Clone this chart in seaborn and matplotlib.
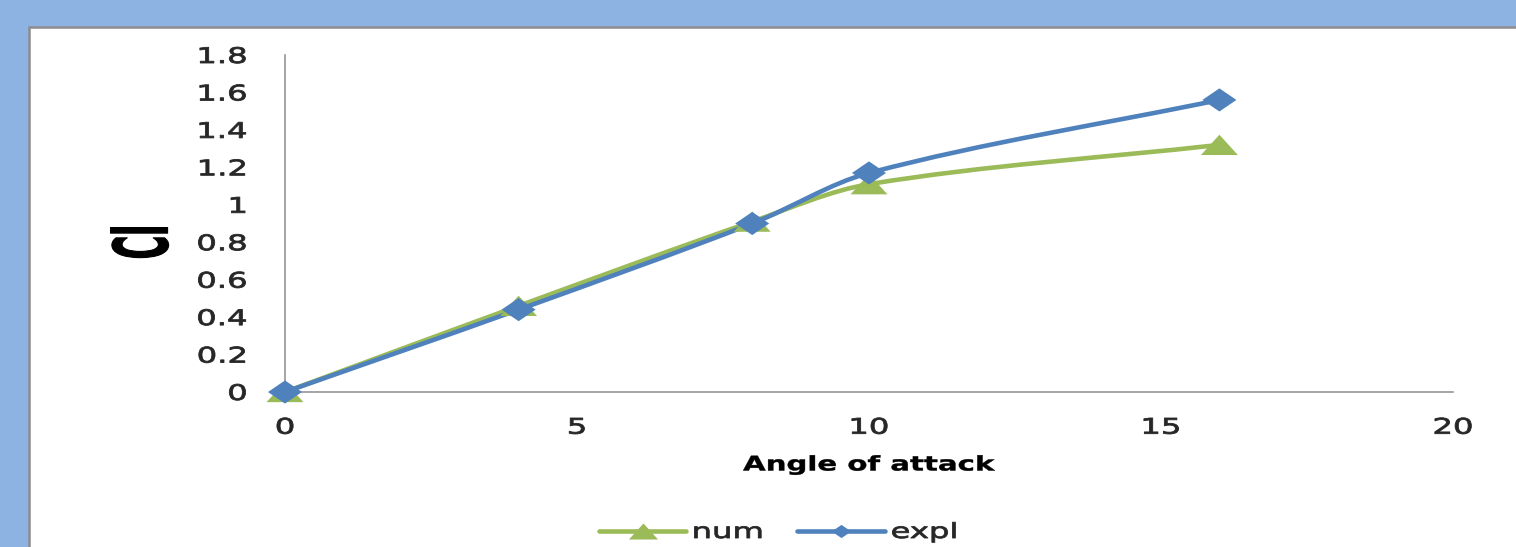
import numpy as np
import matplotlib
matplotlib.use("Agg")
import matplotlib.pyplot as plt
import seaborn as sns
from matplotlib.path import Path
from matplotlib.patches import PathPatch, Rectangle
from matplotlib.lines import Line2D
from matplotlib.markers import MarkerStyle
from matplotlib.transforms import Affine2D
from matplotlib import patheffects

# ---- data -------------------------------------------------------------
angle = [0, 4, 8, 10, 16]
cl_num = [0.0, 0.46, 0.91, 1.11, 1.32]
cl_expl = [0.0, 0.44, 0.90, 1.17, 1.56]
series_names = ["num", "expl"]
x_ticks = [0, 5, 10, 15, 20]
y_ticks = [0, 0.2, 0.4, 0.6, 0.8, 1.0, 1.2, 1.4, 1.6, 1.8]
x_label = "Angle of attack"
y_label = "Cl"

# ---- styling ----------------------------------------------------------
GREEN = "#9BBB59"
BLUE = "#4F81BD"
FRAME_BG = "#8DB3E2"
AXIS_GREY = "#8C8C8C"
TEXT = "#262626"
LINE_W = 3.3

sns.set_theme(style="white")
plt.rcParams["font.family"] = ["DejaVu Sans"]


class HStretch(patheffects.AbstractPathEffect):
    """Widen glyphs horizontally (in display space) around an anchor,
    optionally thickening the strokes a little."""

    def __init__(self, sx, anchor=0.5, stroke=0.0):
        super().__init__()
        self.sx = sx
        self.anchor = anchor
        self.stroke = stroke

    def draw_path(self, renderer, gc, tpath, affine, rgbFace=None):
        verts = tpath.vertices
        if tpath.codes is not None:
            verts = verts[tpath.codes != Path.CLOSEPOLY]
        if len(verts):
            pts = affine.transform(verts)
            x0, x1 = pts[:, 0].min(), pts[:, 0].max()
            xa = x0 + self.anchor * (x1 - x0)
            affine = affine + Affine2D().translate(-xa, 0).scale(self.sx, 1).translate(xa, 0)
        if self.stroke > 0 and rgbFace is not None:
            gc0 = renderer.new_gc()
            gc0.copy_properties(gc)
            gc0.set_linewidth(self.stroke)
            gc0.set_foreground(rgbFace)
            gc0.set_joinstyle("round")
            renderer.draw_path(gc0, tpath, affine, rgbFace)
            gc0.restore()
        else:
            renderer.draw_path(gc, tpath, affine, rgbFace)


def smooth_path(xs, ys):
    """Piecewise cubic Bezier through the points, tangents from neighbours."""
    x = np.asarray(xs, float)
    y = np.asarray(ys, float)
    n = len(x)
    m = np.empty(n)
    m[0] = (y[1] - y[0]) / (x[1] - x[0])
    m[-1] = (y[-1] - y[-2]) / (x[-1] - x[-2])
    for i in range(1, n - 1):
        m[i] = (y[i + 1] - y[i - 1]) / (x[i + 1] - x[i - 1])
    verts = [(x[0], y[0])]
    codes = [Path.MOVETO]
    for i in range(n - 1):
        h = (x[i + 1] - x[i]) / 3
        verts += [(x[i] + h, y[i] + m[i] * h),
                  (x[i + 1] - h, y[i + 1] - m[i + 1] * h),
                  (x[i + 1], y[i + 1])]
        codes += [Path.CURVE4] * 3
    return Path(verts, codes)


tri_marker = MarkerStyle(Path([(-1, -0.55), (1, -0.55), (0, 0.55), (-1, -0.55)],
                              [Path.MOVETO, Path.LINETO, Path.LINETO, Path.CLOSEPOLY]))
dia_marker = MarkerStyle(Path([(-1, 0), (0, 0.68), (1, 0), (0, -0.68), (-1, 0)],
                              [Path.MOVETO, Path.LINETO, Path.LINETO, Path.LINETO, Path.CLOSEPOLY]))

W, H = 1516, 547
fig = plt.figure(figsize=(W / 100, H / 100), dpi=100, facecolor=FRAME_BG)

# white chart panel with a grey edge on top and left
panel = Rectangle((28.5 / W, -0.1), 1.2, (H - 26.5) / H + 0.1,
                  transform=fig.transFigure, facecolor="white",
                  edgecolor=AXIS_GREY, linewidth=1.8, zorder=0)
fig.add_artist(panel)

ax = fig.add_axes([285 / W, 1 - 392 / H, (1453 - 285) / W, (392 - 55) / H])
ax.set_facecolor("none")

series = [
    (cl_num, GREEN, tri_marker, 26.6),
    (cl_expl, BLUE, dia_marker, 24.5),
]
for vals, color, mk, ms in series:
    ax.add_patch(PathPatch(smooth_path(angle, vals), transform=ax.transData,
                           facecolor="none", edgecolor=color, linewidth=LINE_W,
                           capstyle="round", joinstyle="round", clip_on=False, zorder=2))
    sns.scatterplot(x=angle, y=vals, ax=ax, marker=mk, s=ms ** 2, color=color,
                    edgecolor="none", linewidth=0, clip_on=False, zorder=3, legend=False)

ax.set_xlim(0, 20)
ax.set_ylim(0, 1.8)
ax.set_xticks(x_ticks, labels=[f"{v:g}" for v in x_ticks])
ax.set_yticks(y_ticks, labels=[f"{v:g}" for v in y_ticks])
ax.tick_params(axis="both", length=0, labelsize=15.5, labelcolor=TEXT)
ax.tick_params(axis="x", pad=18.5)
ax.tick_params(axis="y", pad=27.4)

for side in ("top", "right"):
    ax.spines[side].set_visible(False)
for side in ("left", "bottom"):
    ax.spines[side].set_color(AXIS_GREY)
    ax.spines[side].set_linewidth(1.1)

for lab in ax.get_xticklabels():
    lab.set_path_effects([HStretch(1.5, 0.5, stroke=0.6)])
for lab in ax.get_yticklabels():
    lab.set_path_effects([HStretch(1.5, 1.0, stroke=0.6)])

xl = ax.set_xlabel(x_label, fontsize=14.5, fontweight="bold", color="black", va="top")
ax.xaxis.set_label_coords(0.5, -(455.5 - 392) / (392 - 55))
xl.set_path_effects([HStretch(1.45, 0.5, stroke=0.3)])

yl = ax.set_ylabel(y_label, fontsize=23, fontweight="bold", color="black",
                   va="center", ha="center")
ax.yaxis.set_label_coords(-(285 - 143) / (1453 - 285), (392 - 242) / (392 - 55))
yl.set_path_effects([HStretch(2.35, 0.5, stroke=0.8)])

handles = [
    Line2D([0], [0], color=GREEN, lw=LINE_W, marker=tri_marker, markersize=21, mew=0),
    Line2D([0], [0], color=BLUE, lw=LINE_W, marker=dia_marker, markersize=14, mew=0),
]
leg = fig.legend(handles, series_names, loc="center", ncol=2,
                 bbox_to_anchor=(767 / W, 1 - 532 / H), frameon=False,
                 fontsize=15, handlelength=4.2, handletextpad=0.3,
                 columnspacing=2.8, borderpad=0)
for t in leg.get_texts():
    t.set_color(TEXT)
    t.set_path_effects([HStretch(1.55, 0.0, stroke=0.6)])

fig.savefig("out.png", dpi=100, facecolor=FRAME_BG)
